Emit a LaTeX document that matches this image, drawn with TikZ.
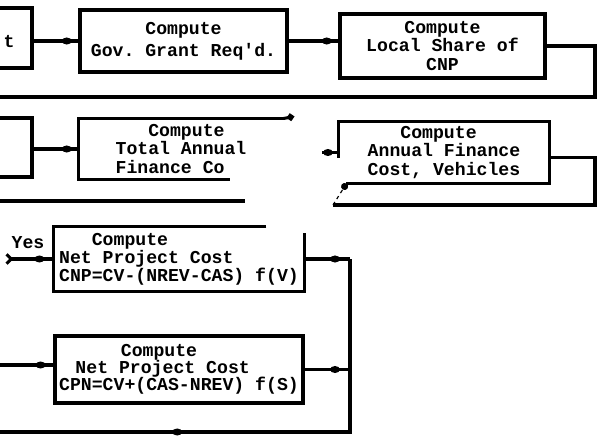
\documentclass[tikz,border=0pt]{standalone}
\usepackage{fontspec}
\setmonofont{Liberation Mono}
\usepackage{tikz}
\usetikzlibrary{calc,arrows.meta,decorations.markings}

\begin{document}
\begin{tikzpicture}[x=0.03cm,y=-0.03cm,line width=2.6pt,
		box/.style={draw,rectangle,inner sep=0pt,font=\ttfamily\bfseries\fontsize{15.5}{15.5}\selectfont,align=center},
		boxtext/.style={box,draw=none},
		flow/.style={postaction={decorate},decoration={markings,mark=at position #1 with {\fill (0,0) ellipse[x radius=4.2pt,y radius=3pt];}}},
		flow/.default=-10pt]
			\useasboundingbox (0,0) rectangle (605,444);
			\clip (0,0) rectangle (605,444);
			\node[box,minimum width=6cm,minimum height=1.8cm] (prev1) at (-68,38) {};
			\node[font=\ttfamily\bfseries\fontsize{15.5}{15.5}\selectfont] (prev1txt) at (9,42) {t};
			\node[box,minimum width=6.21cm,minimum height=1.86cm] (gov) at (183.5,41) {Compute\\[3.3pt]Gov. Grant Req'd.};
			\node[box,minimum width=6.15cm,minimum height=1.92cm] (local) at (442.5,46) {Compute\\Local Share of\\CNP};
			\coordinate (r1) at (595,97);
			\coordinate (r1end) at (-5,97);
			\draw[flow] (prev1.east |- gov.west) -- (gov.west);
			\draw[flow] (gov.east) -- (gov.east -| local.west);
			\draw (local.east) -| (r1) -- (r1end);
			\node[box,minimum width=6cm,minimum height=1.77cm] (prev2) at (-68,147.5) {};
			\node[boxtext,align=left,minimum width=6.06cm,minimum height=1.74cm] (total) at (181,149) {\hspace*{1.8em}Compute\\Total Annual\\Finance Co};
			\draw (total.north east) -- (total.north west) -- (total.south west) -- ++(152,0);
			\draw[-{Turned Square[length=7pt,width=7pt]}] (total.north east) -- ++(11,-2);
			\draw[flow] (prev2.east |- total.west) -- (total.west);
			\coordinate (r2a) at (-5,201);
			\coordinate (r2b) at (245,201);
			\draw (r2a) -- (r2b);
			\node[boxtext,align=left,minimum width=6.24cm,minimum height=1.77cm] (veh) at (444,152.5) {\hspace*{1.8em}Compute\\Annual Finance\\Cost, Vehicles};
			\draw ($(veh.west)+(0,5)$) -- (veh.north west) -- (veh.north east) -- (veh.south east) -- ($(veh.south west)+(8,0)$);
			\coordinate (vin) at (322,152.5);
			\draw[flow=-9pt] (vin) -- (veh.west);
			\coordinate (r3a) at (595,205);
			\coordinate (r3b) at (333,205);
			\draw ($(veh.east)+(0,5)$) -| (r3a) -- (r3b);
			\draw[dashed,line width=1pt,-{Circle[length=6pt]}] (r3b) -- ($(veh.south west)+(8,0)$);
			\node[boxtext,align=left,minimum width=7.44cm,minimum height=1.86cm] (npcv) at (179,259) {\hspace*{1.8em}Compute\\Net Project Cost\\CNP=CV-(NREV-CAS) f(V)};
			\draw ($(npcv.north west)+(213,0)$) -- (npcv.north west) -- (npcv.south west) -- (npcv.south east) -- ($(npcv.north east)+(0,7)$);
			\node[font=\ttfamily\bfseries\fontsize{15.5}{15.5}\selectfont] (yes) at (28,243) {Yes};
			\coordinate (yesin) at (5,259);
			\draw[flow=-12pt,{Straight Barb[reversed,length=4pt,width=8pt]}-] (yesin) -- (npcv.west);
			\node[box,align=left,minimum width=7.44cm,minimum height=2.01cm] (npcs) at (179,369.5) {\hspace*{3.4em}Compute\\[-1pt]\hspace*{0.9em}Net Project Cost\\[-1pt]CPN=CV+(CAS-NREV) f(S)};
			\coordinate (sin) at (-5,365);
			\draw[flow=-11pt] (sin) -- (sin -| npcs.west);
			\coordinate (jn) at (350,432);
			\coordinate (jend) at (-5,432);
			\draw[flow=-12.8pt] (npcv.east) -- (npcv.east -| jn);
			\draw[flow=-12.8pt] (npcs.east) -- (npcs.east -| jn);
			\draw[flow=0.655] (npcv.east -| jn) -- (jn) -- (jend);
		\end{tikzpicture}
\end{document}
